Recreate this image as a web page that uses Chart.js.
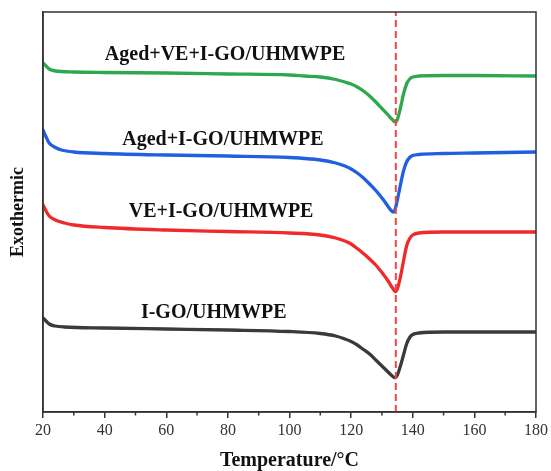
<!DOCTYPE html>
<html>
<head>
<meta charset="utf-8">
<script src="https://cdn.jsdelivr.net/npm/chart.js@4/dist/chart.umd.min.js"></script>
<style>
html,body{margin:0;padding:0;background:#fff;}
#wrap{width:551px;height:471px;}
</style>
</head>
<body>
<div id="wrap"><canvas id="c" width="551" height="471"></canvas></div>
<script>
// Temperatures (°C) and heat-flow values (arbitrary units, offset per curve)
const greenT = [20,21,22,24,30,40,60,80,100,105,110,115,118,120,122,124,126,128,130,132,133,134,134.5,135,136,137,138,139,140,142,150,160,180];
const greenV = [3.49,3.46,3.43,3.41,3.40,3.395,3.39,3.38,3.37,3.36,3.35,3.325,3.30,3.28,3.25,3.21,3.16,3.10,3.035,2.97,2.935,2.905,2.90,2.925,3.04,3.18,3.28,3.33,3.35,3.36,3.365,3.365,3.36];

const blueT = [20,21,22,24,26,30,40,60,80,100,110,115,118,120,122,124,126,128,130,131,132,133,133.6,134.2,135,136,137,138,139,140,142,150,160,180];
const blueV = [2.82,2.75,2.69,2.645,2.62,2.60,2.585,2.57,2.56,2.545,2.52,2.49,2.46,2.43,2.39,2.34,2.28,2.215,2.14,2.10,2.055,2.015,2.00,2.02,2.12,2.27,2.41,2.50,2.545,2.565,2.575,2.585,2.59,2.60];

const redT = [20,21,22,24,27,30,40,60,80,100,110,115,118,120,122,124,126,128,130,132,133,134,134.5,135,136,137,138,139,140,142,150,160,180];
const redV = [2.07,2.01,1.96,1.92,1.89,1.87,1.845,1.82,1.805,1.79,1.77,1.74,1.71,1.68,1.635,1.585,1.53,1.47,1.395,1.31,1.26,1.215,1.205,1.23,1.35,1.51,1.66,1.735,1.77,1.79,1.80,1.80,1.80];

const blackT = [20,21,22,24,27,40,60,80,100,110,115,118,120,122,124,126,128,130,132,133,134,134.5,135,136,137,138,139,140,142,150,180];
const blackV = [0.94,0.91,0.88,0.86,0.85,0.84,0.83,0.82,0.805,0.785,0.76,0.73,0.705,0.67,0.625,0.58,0.52,0.46,0.40,0.37,0.345,0.345,0.37,0.46,0.57,0.68,0.745,0.775,0.79,0.80,0.80];

const seriesNames = ["Aged+VE+I-GO/UHMWPE","Aged+I-GO/UHMWPE","VE+I-GO/UHMWPE","I-GO/UHMWPE"];
const peakTemp = 134.5;
const xTicks = [20,40,60,80,100,120,140,160,180];
const xMinorTicks = [30,50,70,90,110,130,150,170];

// label anchor points (data units)
const labelX = [79.1, 78.4, 77.8, 75.4];
const labelY = [3.57, 2.72, 2.00, 0.99];

const colors = ['#2ea84f','#1f5fe0','#f02a2a','#3a3a3a'];

function pts(T,V){ return T.map((t,i)=>({x:t,y:V[i]})); }

const curves = [pts(greenT,greenV), pts(blueT,blueV), pts(redT,redV), pts(blackT,blackV)];

const datasets = [{
  label:'peak', data:[{x:peakTemp,y:0},{x:peakTemp,y:4}],
  borderColor:'#f04646', borderWidth:2, borderDash:[7,4], pointRadius:0, tension:0
}];
curves.forEach((d,i)=>datasets.push({
  label:seriesNames[i], data:d, borderColor:colors[i], borderWidth:3.3,
  pointRadius:0, cubicInterpolationMode:'monotone', borderCapStyle:'round', borderJoinStyle:'round'
}));

const extras = {
  id:'extras',
  afterDraw(chart){
    const {ctx, chartArea:a, scales:{x,y}} = chart;
    ctx.save();
    ctx.strokeStyle='#333'; ctx.lineWidth=1.5;
    ctx.strokeRect(a.left, a.top, a.right-a.left, a.bottom-a.top);
    ctx.beginPath();
    xMinorTicks.forEach(t=>{const px=x.getPixelForValue(t); ctx.moveTo(px,a.bottom); ctx.lineTo(px,a.bottom+3.5);});
    ctx.stroke();
    ctx.fillStyle='#111';
    ctx.font='bold 20px "Liberation Serif", "Times New Roman", serif';
    ctx.textAlign='center'; ctx.textBaseline='middle';
    seriesNames.forEach((n,i)=>ctx.fillText(n, x.getPixelForValue(labelX[i]), y.getPixelForValue(labelY[i])));
    ctx.restore();
  }
};

new Chart(document.getElementById('c'), {
  type:'line',
  data:{datasets},
  options:{
    responsive:false, animation:false, devicePixelRatio:1,
    layout:{padding:{top:12,right:11,left:0,bottom:0}},
    plugins:{legend:{display:false}, tooltip:{enabled:false}},
    scales:{
      x:{
        type:'linear', min:20, max:180,
        afterBuildTicks(s){ s.ticks = xTicks.map(v=>({value:v})); },
        afterFit(s){ s.height = 59; },
        grid:{drawOnChartArea:false, drawTicks:true, tickLength:6, color:'#333', lineWidth:1.5},
        border:{display:true, color:'#333', width:1.5},
        ticks:{padding:3, color:'#333', font:{family:'"Liberation Serif", serif', size:16}, maxRotation:0},
        title:{display:true, text:'Temperature/°C', color:'#111', padding:{top:0,bottom:0},
          font:{family:'"Liberation Serif", serif', size:20, weight:'bold', lineHeight:1.0}}
      },
      y:{
        type:'linear', min:0, max:4,
        afterFit(s){ s.width = 43; },
        grid:{display:false},
        border:{display:true, color:'#333', width:1.5},
        ticks:{display:false},
        title:{display:true, text:'Exothermic', color:'#111', padding:{top:8,bottom:0},
          font:{family:'"Liberation Serif", serif', size:18, weight:'bold'}}
      }
    }
  },
  plugins:[extras]
});
</script>
</body>
</html>
